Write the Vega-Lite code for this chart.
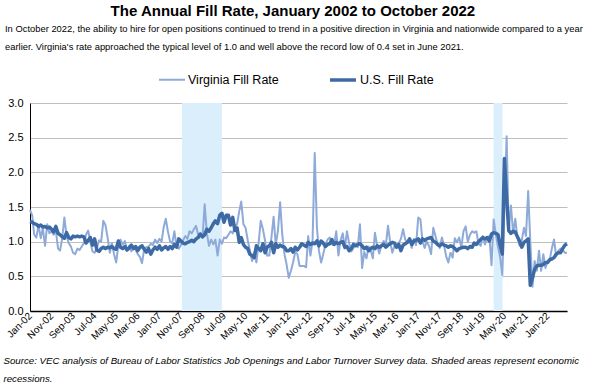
{
  "$schema": "https://vega.github.io/schema/vega-lite/v6.json",
  "background": "white",
  "padding": {"left": 3, "right": 3, "top": 3, "bottom": 0},
  "title": {"text": "The Annual Fill Rate, January 2002 to October 2022", "anchor": "middle", "frame": "bounds", "fontSize": 15, "fontWeight": "bold", "color": "#000000", "offset": 5},
  "vconcat": [
    {
      "width": 537,
      "height": 208,
      "title": {"text": ["In October 2022, the ability to hire for open positions continued to trend in a positive direction in Virginia and nationwide compared to a year", "earlier. Virginia's rate approached the typical level of 1.0 and well above the record low of 0.4 set in June 2021."], "anchor": "start", "frame": "bounds", "fontSize": 9.4, "fontWeight": "normal", "color": "#000000", "lineHeight": 18, "offset": 45, "dx": 2},
      "encoding": {
        "x": {
          "field": "d", "type": "temporal",
          "scale": {"type": "utc", "domain": [{"year": 2002, "month": 1, "date": 1, "utc": true}, {"year": 2022, "month": 10, "date": 1, "utc": true}]},
          "axis": {
            "values": [
              {"year": 2002, "month": 1, "date": 1, "utc": true}, {"year": 2002, "month": 11, "date": 1, "utc": true},
              {"year": 2003, "month": 9, "date": 1, "utc": true}, {"year": 2004, "month": 7, "date": 1, "utc": true},
              {"year": 2005, "month": 5, "date": 1, "utc": true}, {"year": 2006, "month": 3, "date": 1, "utc": true},
              {"year": 2007, "month": 1, "date": 1, "utc": true}, {"year": 2007, "month": 11, "date": 1, "utc": true},
              {"year": 2008, "month": 9, "date": 1, "utc": true}, {"year": 2009, "month": 7, "date": 1, "utc": true},
              {"year": 2010, "month": 5, "date": 1, "utc": true}, {"year": 2011, "month": 3, "date": 1, "utc": true},
              {"year": 2012, "month": 1, "date": 1, "utc": true}, {"year": 2012, "month": 11, "date": 1, "utc": true},
              {"year": 2013, "month": 9, "date": 1, "utc": true}, {"year": 2014, "month": 7, "date": 1, "utc": true},
              {"year": 2015, "month": 5, "date": 1, "utc": true}, {"year": 2016, "month": 3, "date": 1, "utc": true},
              {"year": 2017, "month": 1, "date": 1, "utc": true}, {"year": 2017, "month": 11, "date": 1, "utc": true},
              {"year": 2018, "month": 9, "date": 1, "utc": true}, {"year": 2019, "month": 7, "date": 1, "utc": true},
              {"year": 2020, "month": 5, "date": 1, "utc": true}, {"year": 2021, "month": 3, "date": 1, "utc": true},
              {"year": 2022, "month": 1, "date": 1, "utc": true}
            ],
            "labelExpr": "utcFormat(datum.value, '%b-%y')",
            "labelAngle": -45, "labelAlign": "right", "labelBaseline": "middle", "labelPadding": 3,
            "labelFontSize": 10, "labelColor": "#000000", "labelOverlap": false, "labelFlush": false,
            "ticks": false, "grid": false, "domainColor": "#000000", "domainWidth": 1.5,
            "title": ["Source: VEC analysis of Bureau of Labor Statistics Job Openings and Labor Turnover Survey data. Shaded areas represent economic", "recessions."],
            "titleFontStyle": "italic", "titleFontWeight": "normal", "titleFontSize": 9.7, "titleColor": "#000000",
            "titleAnchor": "start", "titleAlign": "left", "titleBaseline": "top", "titleX": -27, "titleY": 44, "titleLineHeight": 18
          }
        }
      },
      "layer": [
        {
          "data": {"values": [{"d": "2007-11-15", "d2": "2009-06-01"}, {"d": "2019-12-01", "d2": "2020-04-04"}]},
          "mark": {"type": "rect", "color": "#daeefb"},
          "encoding": {"x2": {"field": "d2"}}
        },
        {
          "data": {"values": [
{"d":"2002-01","va":1.46,"us":1.29},{"d":"2002-02","va":1.38,"us":1.28},{"d":"2002-03","va":1.10,"us":1.26},{"d":"2002-04","va":1.06,"us":1.25},{"d":"2002-05","va":1.24,"us":1.22},{"d":"2002-06","va":1.05,"us":1.24},{"d":"2002-07","va":1.20,"us":1.21},{"d":"2002-08","va":0.94,"us":1.22},{"d":"2002-09","va":1.25,"us":1.20},{"d":"2002-10","va":1.12,"us":1.21},{"d":"2002-11","va":1.15,"us":1.18},{"d":"2002-12","va":1.10,"us":1.14},
{"d":"2003-01","va":1.16,"us":1.22},{"d":"2003-02","va":0.90,"us":1.12},{"d":"2003-03","va":0.87,"us":1.10},{"d":"2003-04","va":1.05,"us":1.07},{"d":"2003-05","va":1.35,"us":1.05},{"d":"2003-06","va":1.08,"us":1.13},{"d":"2003-07","va":0.98,"us":1.06},{"d":"2003-08","va":0.93,"us":1.04},{"d":"2003-09","va":0.84,"us":1.08},{"d":"2003-10","va":0.82,"us":1.07},{"d":"2003-11","va":0.90,"us":1.08},{"d":"2003-12","va":0.88,"us":1.07},
{"d":"2004-01","va":0.93,"us":1.08},{"d":"2004-02","va":0.98,"us":1.07},{"d":"2004-03","va":1.10,"us":0.98},{"d":"2004-04","va":1.16,"us":1.02},{"d":"2004-05","va":1.00,"us":1.06},{"d":"2004-06","va":0.86,"us":0.95},{"d":"2004-07","va":0.84,"us":1.04},{"d":"2004-08","va":0.90,"us":0.88},{"d":"2004-09","va":1.02,"us":0.86},{"d":"2004-10","va":1.00,"us":0.90},{"d":"2004-11","va":1.30,"us":0.92},{"d":"2004-12","va":1.24,"us":0.90},
{"d":"2005-01","va":1.05,"us":0.92},{"d":"2005-02","va":0.84,"us":0.91},{"d":"2005-03","va":0.98,"us":0.93},{"d":"2005-04","va":0.82,"us":0.90},{"d":"2005-05","va":0.70,"us":0.89},{"d":"2005-06","va":0.95,"us":1.01},{"d":"2005-07","va":1.03,"us":0.92},{"d":"2005-08","va":0.96,"us":0.90},{"d":"2005-09","va":1.01,"us":0.93},{"d":"2005-10","va":0.88,"us":0.88},{"d":"2005-11","va":0.94,"us":0.91},{"d":"2005-12","va":0.86,"us":0.95},
{"d":"2006-01","va":0.93,"us":0.90},{"d":"2006-02","va":0.88,"us":0.93},{"d":"2006-03","va":0.82,"us":0.87},{"d":"2006-04","va":0.78,"us":0.92},{"d":"2006-05","va":0.69,"us":0.94},{"d":"2006-06","va":0.90,"us":0.89},{"d":"2006-07","va":0.92,"us":0.85},{"d":"2006-08","va":0.93,"us":0.90},{"d":"2006-09","va":0.97,"us":0.82},{"d":"2006-10","va":0.95,"us":0.88},{"d":"2006-11","va":1.03,"us":0.92},{"d":"2006-12","va":0.98,"us":0.89},
{"d":"2007-01","va":1.04,"us":0.94},{"d":"2007-02","va":1.00,"us":0.88},{"d":"2007-03","va":1.20,"us":0.91},{"d":"2007-04","va":1.33,"us":0.93},{"d":"2007-05","va":1.15,"us":0.89},{"d":"2007-06","va":1.00,"us":0.93},{"d":"2007-07","va":0.98,"us":0.90},{"d":"2007-08","va":1.15,"us":0.96},{"d":"2007-09","va":0.92,"us":0.92},{"d":"2007-10","va":0.90,"us":1.04},{"d":"2007-11","va":0.95,"us":1.01},{"d":"2007-12","va":1.02,"us":0.98},
{"d":"2008-01","va":1.08,"us":0.97},{"d":"2008-02","va":1.04,"us":0.99},{"d":"2008-03","va":1.15,"us":1.00},{"d":"2008-04","va":1.12,"us":1.02},{"d":"2008-05","va":1.18,"us":1.00},{"d":"2008-06","va":1.23,"us":1.04},{"d":"2008-07","va":1.10,"us":1.06},{"d":"2008-08","va":1.12,"us":1.11},{"d":"2008-09","va":1.06,"us":1.07},{"d":"2008-10","va":1.54,"us":1.10},{"d":"2008-11","va":1.12,"us":1.18},{"d":"2008-12","va":0.94,"us":1.15},
{"d":"2009-01","va":1.03,"us":1.20},{"d":"2009-02","va":0.96,"us":1.26},{"d":"2009-03","va":1.03,"us":1.30},{"d":"2009-04","va":0.80,"us":1.26},{"d":"2009-05","va":1.03,"us":1.38},{"d":"2009-06","va":0.97,"us":1.41},{"d":"2009-07","va":1.06,"us":1.28},{"d":"2009-08","va":1.05,"us":1.38},{"d":"2009-09","va":1.10,"us":1.38},{"d":"2009-10","va":1.15,"us":1.24},{"d":"2009-11","va":1.12,"us":1.35},{"d":"2009-12","va":1.22,"us":1.16},
{"d":"2010-01","va":1.25,"us":1.20},{"d":"2010-02","va":1.44,"us":0.99},{"d":"2010-03","va":1.58,"us":1.06},{"d":"2010-04","va":1.25,"us":0.96},{"d":"2010-05","va":1.20,"us":0.92},{"d":"2010-06","va":1.02,"us":0.90},{"d":"2010-07","va":0.87,"us":0.82},{"d":"2010-08","va":0.72,"us":0.80},{"d":"2010-09","va":0.85,"us":0.77},{"d":"2010-10","va":0.70,"us":0.94},{"d":"2010-11","va":0.98,"us":0.90},{"d":"2010-12","va":1.30,"us":0.87},
{"d":"2011-01","va":1.18,"us":0.97},{"d":"2011-02","va":1.01,"us":0.84},{"d":"2011-03","va":0.80,"us":0.92},{"d":"2011-04","va":0.80,"us":0.94},{"d":"2011-05","va":1.06,"us":0.99},{"d":"2011-06","va":1.36,"us":0.84},{"d":"2011-07","va":0.95,"us":0.97},{"d":"2011-08","va":1.16,"us":0.92},{"d":"2011-09","va":1.57,"us":0.95},{"d":"2011-10","va":1.10,"us":0.93},{"d":"2011-11","va":0.82,"us":0.92},{"d":"2011-12","va":0.67,"us":0.87},
{"d":"2012-01","va":0.48,"us":0.87},{"d":"2012-02","va":0.58,"us":0.90},{"d":"2012-03","va":0.70,"us":0.85},{"d":"2012-04","va":0.85,"us":0.92},{"d":"2012-05","va":0.82,"us":0.88},{"d":"2012-06","va":0.65,"us":0.92},{"d":"2012-07","va":0.65,"us":0.97},{"d":"2012-08","va":0.65,"us":0.95},{"d":"2012-09","va":0.63,"us":0.93},{"d":"2012-10","va":1.08,"us":0.99},{"d":"2012-11","va":0.80,"us":0.96},{"d":"2012-12","va":1.00,"us":0.98},
{"d":"2013-01","va":2.28,"us":0.97},{"d":"2013-02","va":1.20,"us":1.01},{"d":"2013-03","va":0.87,"us":0.94},{"d":"2013-04","va":0.70,"us":1.01},{"d":"2013-05","va":0.82,"us":0.98},{"d":"2013-06","va":0.96,"us":0.93},{"d":"2013-07","va":1.03,"us":0.96},{"d":"2013-08","va":1.06,"us":0.97},{"d":"2013-09","va":0.96,"us":1.03},{"d":"2013-10","va":0.95,"us":0.96},{"d":"2013-11","va":1.15,"us":0.99},{"d":"2013-12","va":0.80,"us":0.97},
{"d":"2014-01","va":1.02,"us":0.99},{"d":"2014-02","va":1.12,"us":1.00},{"d":"2014-03","va":0.90,"us":0.92},{"d":"2014-04","va":1.15,"us":0.93},{"d":"2014-05","va":0.98,"us":0.87},{"d":"2014-06","va":0.86,"us":0.90},{"d":"2014-07","va":0.91,"us":0.96},{"d":"2014-08","va":0.96,"us":0.94},{"d":"2014-09","va":0.92,"us":0.96},{"d":"2014-10","va":1.25,"us":0.97},{"d":"2014-11","va":0.62,"us":0.94},{"d":"2014-12","va":0.85,"us":0.90},
{"d":"2015-01","va":0.76,"us":0.92},{"d":"2015-02","va":0.93,"us":0.87},{"d":"2015-03","va":0.88,"us":0.90},{"d":"2015-04","va":0.76,"us":0.92},{"d":"2015-05","va":1.13,"us":0.90},{"d":"2015-06","va":0.94,"us":0.94},{"d":"2015-07","va":0.83,"us":0.92},{"d":"2015-08","va":0.94,"us":0.94},{"d":"2015-09","va":1.01,"us":0.96},{"d":"2015-10","va":0.94,"us":0.92},{"d":"2015-11","va":1.23,"us":0.95},{"d":"2015-12","va":1.00,"us":0.97},
{"d":"2016-01","va":0.84,"us":0.99},{"d":"2016-02","va":0.94,"us":0.98},{"d":"2016-03","va":0.91,"us":0.92},{"d":"2016-04","va":0.98,"us":0.96},{"d":"2016-05","va":1.04,"us":0.87},{"d":"2016-06","va":1.18,"us":0.95},{"d":"2016-07","va":1.03,"us":0.97},{"d":"2016-08","va":0.98,"us":0.99},{"d":"2016-09","va":1.05,"us":1.04},{"d":"2016-10","va":0.91,"us":0.96},{"d":"2016-11","va":1.04,"us":1.01},{"d":"2016-12","va":0.95,"us":1.02},
{"d":"2017-01","va":1.35,"us":1.04},{"d":"2017-02","va":1.32,"us":0.98},{"d":"2017-03","va":1.01,"us":1.04},{"d":"2017-04","va":0.91,"us":1.02},{"d":"2017-05","va":1.00,"us":1.04},{"d":"2017-06","va":0.94,"us":1.05},{"d":"2017-07","va":0.82,"us":1.06},{"d":"2017-08","va":1.20,"us":1.01},{"d":"2017-09","va":1.08,"us":0.99},{"d":"2017-10","va":0.96,"us":0.96},{"d":"2017-11","va":0.91,"us":0.94},{"d":"2017-12","va":1.06,"us":0.97},
{"d":"2018-01","va":0.94,"us":0.95},{"d":"2018-02","va":0.78,"us":0.94},{"d":"2018-03","va":0.70,"us":0.92},{"d":"2018-04","va":0.84,"us":0.94},{"d":"2018-05","va":0.77,"us":0.93},{"d":"2018-06","va":1.05,"us":0.90},{"d":"2018-07","va":0.99,"us":0.87},{"d":"2018-08","va":1.06,"us":0.90},{"d":"2018-09","va":0.92,"us":0.91},{"d":"2018-10","va":1.15,"us":0.92},{"d":"2018-11","va":1.22,"us":0.92},{"d":"2018-12","va":1.00,"us":0.90},
{"d":"2019-01","va":1.10,"us":0.93},{"d":"2019-02","va":1.15,"us":0.92},{"d":"2019-03","va":1.13,"us":0.98},{"d":"2019-04","va":1.15,"us":0.96},{"d":"2019-05","va":0.97,"us":1.00},{"d":"2019-06","va":0.94,"us":1.03},{"d":"2019-07","va":1.08,"us":1.06},{"d":"2019-08","va":0.96,"us":1.04},{"d":"2019-09","va":1.06,"us":1.06},{"d":"2019-10","va":1.08,"us":1.01},{"d":"2019-11","va":0.66,"us":1.11},{"d":"2019-12","va":1.32,"us":1.13},
{"d":"2020-01","va":1.10,"us":1.12},{"d":"2020-02","va":0.92,"us":1.10},{"d":"2020-03","va":0.78,"us":0.95},{"d":"2020-04","va":0.52,"us":0.82},{"d":"2020-05","va":1.50,"us":2.20},{"d":"2020-06","va":2.52,"us":1.62},{"d":"2020-07","va":1.15,"us":1.16},{"d":"2020-08","va":1.52,"us":1.12},{"d":"2020-09","va":1.12,"us":1.15},{"d":"2020-10","va":1.33,"us":1.14},{"d":"2020-11","va":1.05,"us":1.07},{"d":"2020-12","va":0.94,"us":1.01},
{"d":"2021-01","va":1.02,"us":0.92},{"d":"2021-02","va":1.20,"us":0.99},{"d":"2021-03","va":1.08,"us":1.01},{"d":"2021-04","va":1.73,"us":1.04},{"d":"2021-05","va":1.00,"us":0.37},{"d":"2021-06","va":0.35,"us":0.48},{"d":"2021-07","va":0.72,"us":0.60},{"d":"2021-08","va":0.58,"us":0.65},{"d":"2021-09","va":0.87,"us":0.66},{"d":"2021-10","va":0.58,"us":0.66},{"d":"2021-11","va":0.82,"us":0.67},{"d":"2021-12","va":0.62,"us":0.70},
{"d":"2022-01","va":0.72,"us":0.70},{"d":"2022-02","va":0.75,"us":0.74},{"d":"2022-03","va":0.90,"us":0.75},{"d":"2022-04","va":1.03,"us":0.77},{"d":"2022-05","va":0.79,"us":0.82},{"d":"2022-06","va":0.87,"us":0.84},{"d":"2022-07","va":0.90,"us":0.84},{"d":"2022-08","va":0.88,"us":0.90},{"d":"2022-09","va":0.84,"us":0.95},{"d":"2022-10","va":0.84,"us":0.97}
          ]},
          "transform": [{"fold": ["va", "us"]}],
          "mark": {"type": "line", "strokeJoin": "round", "strokeCap": "butt"},
          "encoding": {
            "y": {"field": "value", "type": "quantitative", "scale": {"domain": [0, 3], "nice": false},
              "axis": {"title": null, "values": [0, 0.5, 1, 1.5, 2, 2.5, 3], "format": ".1f", "ticks": false, "grid": true, "gridColor": "#bfbfbf", "gridWidth": 1, "domainColor": "#000000", "domainWidth": 1, "labelFontSize": 11, "labelPadding": 7, "labelColor": "#000000"}},
            "color": {"field": "key", "type": "nominal", "scale": {"domain": ["va", "us"], "range": ["#8eaad8", "#3d6aa5"]},
              "legend": {"labelExpr": "datum.value == 'va' ? 'Virginia Fill Rate' : 'U.S. Fill Rate'", "orient": "none", "legendX": 128, "legendY": -38, "direction": "horizontal"}},
            "strokeWidth": {"field": "key", "type": "nominal", "scale": {"domain": ["va", "us"], "range": [2, 3.5]},
              "legend": {"labelExpr": "datum.value == 'va' ? 'Virginia Fill Rate' : 'U.S. Fill Rate'", "orient": "none", "legendX": 128, "legendY": -38, "direction": "horizontal"}}
          }
        }
      ]
    }
  ],
  "config": {
    "font": "Liberation Sans, Arial, sans-serif",
    "view": {"stroke": null},
    "concat": {"spacing": 0},
    "legend": {"title": null, "symbolType": "stroke", "symbolSize": 676, "labelFontSize": 12.5, "labelColor": "#000000", "columnPadding": 44, "labelLimit": 0, "labelOffset": 2, "padding": 0}
  }
}
